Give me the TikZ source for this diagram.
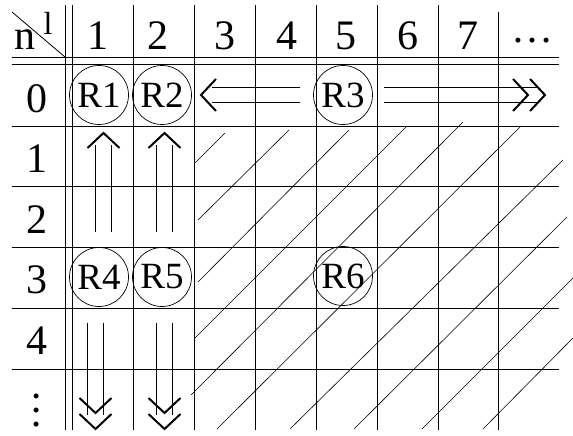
\documentclass[tikz,border=0pt]{standalone}
\usepackage{fontspec}
\setmainfont{Liberation Serif}
\usetikzlibrary{positioning, calc}

\tikzset{
    chevron/.pic={\draw[line width=2pt] (-15,-16) -- (0,0) -- (-15,16);}
}

\begin{document}
\begin{tikzpicture}[x=1pt, y=-1pt,
    lbl/.style={anchor=base, inner sep=0pt, font=\fontsize{42}{44}\selectfont},
    region/.style={circle, draw, line width=0.7pt, minimum size=59pt, inner sep=0pt, font=\fontsize{37}{39}\selectfont},
    shaft/.style={double, double distance=14.5pt, line width=0.8pt},
    hatch/.style={line width=0.6pt},
    rule/.style={line width=0.8pt}]
    \useasboundingbox (0,0) rectangle (573,436);

    % Arrows (drawn first so the grid shows through the shafts)
    \coordinate (w0) at (201,95);
    \coordinate (w1) at (300,95);
    \coordinate (e1) at (384,95);
    \coordinate (e0) at (545,95);
    \coordinate (u1) at (103.5,133);
    \coordinate (u1s) at (103.5,232);
    \coordinate (u2) at (164.5,133);
    \coordinate (u2s) at (164.5,232);
    \coordinate (d1) at (95.5,429);
    \coordinate (d1s) at (95.5,323);
    \coordinate (d2) at (164.5,429);
    \coordinate (d2s) at (164.5,323);

    \draw[shaft] (w1) -- ($(w0)+(11,0)$);
    \pic[rotate=180] at (w0) {chevron};
    \draw[shaft] (e1) -- ($(e0)+(-6,0)$);
    \pic at (e0) {chevron};
    \pic at ($(e0)+(-17,0)$) {chevron};
    \draw[shaft] (u1s) -- ($(u1)+(0,12)$);
    \pic[rotate=90] at (u1) {chevron};
    \draw[shaft] (u2s) -- ($(u2)+(0,12)$);
    \pic[rotate=90] at (u2) {chevron};
    \draw[shaft] (d1s) -- ($(d1)+(0,-14)$);
    \pic[rotate=-90] at (d1) {chevron};
    \pic[rotate=-90] at ($(d1)+(0,-16)$) {chevron};
    \draw[shaft] (d2s) -- ($(d2)+(0,-14)$);
    \pic[rotate=-90] at (d2) {chevron};
    \pic[rotate=-90] at ($(d2)+(0,-16)$) {chevron};

    % Grid
    \draw[rule] (12,57) -- (559,57) (12,64) -- (559,64);
    \foreach \y in {126,186,247,308,369}
        \draw[rule] (12,\y) -- (559,\y);
    \foreach \x in {65,72,133,194,255,316,377,438}
        \draw[rule] (\x,5) -- (\x,430);
    \draw[rule] (498,12) -- (498,430);
    \draw[rule] (12,12) -- (65,57);

    % Hatching
    \foreach \xa/\ya/\xb/\yb in {195/163/225/133, 198/220/289/130, 198/282/349/130,
            195/338/407/126, 191/395/463/122, 217/429/521/126, 290/429/563/160,
            354/429/567/217, 422/429/573/278, 483/429/573/338}
        \draw[hatch] (\xa,\ya) -- (\xb,\yb);

    % Labels
    \node[lbl] (n) at (25,50) {n};
    \node[lbl, font=\fontsize{32}{34}\selectfont] (l) at (48,35) {l};
    \foreach \t/\x [count=\i] in {1/98,2/158,3/225,4/287,5/346,6/408,7/468}
        \node[lbl] (c\i) at (\x,50) {\t};
    \node[lbl] (c8) at (532,43) {…};
    \foreach \t/\y [count=\i] in {0/112,1/172,2/233,3/293,4/354}
        \node[lbl] (r\i) at (37,\y) {\t};
    \node[lbl, anchor=center, rotate=90] (r6) at (37,410) {…};

    % Regions
    \node[region] (R1) at (99,95) {R1};
    \node[region] (R2) at (162,95) {R2};
    \node[region] (R3) at (343,95) {R3};
    \node[region] (R4) at (99,277) {R4};
    \node[region] (R5) at (162,277) {R5};
    \node[region] (R6) at (343,276) {R6};
\end{tikzpicture}
\end{document}
